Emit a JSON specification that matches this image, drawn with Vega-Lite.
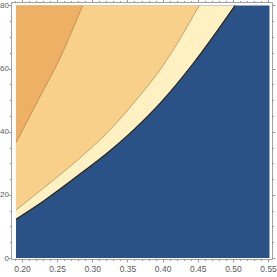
{
  "$schema": "https://vega.github.io/schema/vega-lite/v6.json",
  "width": 261,
  "height": 257,
  "autosize": "none",
  "padding": {"left": 11, "top": 2, "right": 5, "bottom": 18},
  "background": "white",
  "config": {
    "view": {"stroke": "#a0a0a0", "strokeWidth": 1},
    "axis": {
      "domain": false,
      "grid": false,
      "tickColor": "#9a9a9a",
      "tickWidth": 1,
      "labelColor": "#5a5a5a",
      "labelFont": "Liberation Sans",
      "labelFontSize": 8.5,
      "title": null
    }
  },
  "datasets": {
    "region": [{"x0": 0.1915, "x1": 0.552, "y0": 0, "y1": 80}],
    "b1": [
      {"x": 0.1915, "y": 12.3},
      {"x": 0.2303, "y": 18.0},
      {"x": 0.2778, "y": 25.8},
      {"x": 0.3252, "y": 34.0},
      {"x": 0.3607, "y": 41.0},
      {"x": 0.3963, "y": 49.0},
      {"x": 0.4437, "y": 61.7},
      {"x": 0.503, "y": 80}
    ],
    "b2": [
      {"x": 0.1915, "y": 15.2},
      {"x": 0.2303, "y": 22.1},
      {"x": 0.2778, "y": 30.8},
      {"x": 0.3252, "y": 40.6},
      {"x": 0.3607, "y": 49.6},
      {"x": 0.3963, "y": 59.6},
      {"x": 0.4522, "y": 80}
    ],
    "b3": [
      {"x": 0.1915, "y": 36.5},
      {"x": 0.2232, "y": 50.1},
      {"x": 0.254, "y": 63.3},
      {"x": 0.2863, "y": 80}
    ]
  },
  "layer": [
    {
      "data": {"name": "region"},
      "mark": {"type": "rect", "color": "#2a5286"},
      "encoding": {
        "x": {"field": "x0", "type": "quantitative", "scale": {"domain": [0.1844, 0.5556], "nice": false, "zero": false},
          "axis": {"orient": "bottom", "values": [0.2, 0.25, 0.3, 0.35, 0.4, 0.45, 0.5, 0.55], "format": ".2f", "tickSize": 3, "labelPadding": 2}},
        "x2": {"field": "x1"},
        "y": {"field": "y0", "type": "quantitative", "scale": {"domain": [-0.3, 81.1], "nice": false, "zero": false},
          "axis": {"orient": "left", "values": [0, 20, 40, 60, 80], "tickSize": 2.5, "labelPadding": 0, "labelFontSize": 8}},
        "y2": {"field": "y1"}
      }
    },
    {
      "data": {"name": "b1"},
      "mark": {"type": "area", "color": "#fff1c1", "interpolate": "monotone"},
      "encoding": {
        "x": {"field": "x", "type": "quantitative", "axis": null},
        "y": {"field": "y", "type": "quantitative", "axis": null},
        "y2": {"datum": 80}
      }
    },
    {
      "data": {"name": "b2"},
      "mark": {"type": "area", "color": "#f9d08a", "interpolate": "monotone"},
      "encoding": {
        "x": {"field": "x", "type": "quantitative", "axis": null},
        "y": {"field": "y", "type": "quantitative", "axis": null},
        "y2": {"datum": 80}
      }
    },
    {
      "data": {"name": "b3"},
      "mark": {"type": "area", "color": "#edb064", "interpolate": "monotone"},
      "encoding": {
        "x": {"field": "x", "type": "quantitative", "axis": null},
        "y": {"field": "y", "type": "quantitative", "axis": null},
        "y2": {"datum": 80}
      }
    },
    {
      "data": {"name": "b1"},
      "mark": {"type": "line", "color": "#2b2416", "strokeWidth": 1.2, "interpolate": "monotone"},
      "encoding": {
        "x": {"field": "x", "type": "quantitative", "axis": null},
        "y": {"field": "y", "type": "quantitative", "axis": null}
      }
    },
    {
      "data": {"name": "b2"},
      "mark": {"type": "line", "color": "#b8935c", "strokeWidth": 0.8, "interpolate": "monotone"},
      "encoding": {
        "x": {"field": "x", "type": "quantitative", "axis": null},
        "y": {"field": "y", "type": "quantitative", "axis": null}
      }
    },
    {
      "data": {"name": "b3"},
      "mark": {"type": "line", "color": "#b8844c", "strokeWidth": 0.8, "interpolate": "monotone"},
      "encoding": {
        "x": {"field": "x", "type": "quantitative", "axis": null},
        "y": {"field": "y", "type": "quantitative", "axis": null}
      }
    },
    {
      "data": {"name": "region"},
      "mark": {"type": "point", "opacity": 0},
      "encoding": {
        "x": {"field": "x0", "type": "quantitative",
          "axis": {"orient": "bottom", "labels": false, "tickSize": 1.5,
            "values": [0.19, 0.21, 0.22, 0.23, 0.24, 0.26, 0.27, 0.28, 0.29, 0.31, 0.32, 0.33, 0.34, 0.36, 0.37, 0.38, 0.39, 0.41, 0.42, 0.43, 0.44, 0.46, 0.47, 0.48, 0.49, 0.51, 0.52, 0.53, 0.54]}},
        "y": {"field": "y0", "type": "quantitative",
          "axis": {"orient": "left", "labels": false, "tickSize": 1.5, "values": [5, 10, 15, 25, 30, 35, 45, 50, 55, 65, 70, 75]}}
      }
    },
    {
      "data": {"name": "region"},
      "mark": {"type": "point", "opacity": 0},
      "encoding": {
        "x": {"field": "x0", "type": "quantitative",
          "axis": {"orient": "top", "labels": false, "tickSize": 3, "values": [0.2, 0.25, 0.3, 0.35, 0.4, 0.45, 0.5, 0.55]}},
        "y": {"field": "y0", "type": "quantitative",
          "axis": {"orient": "right", "labels": false, "tickSize": 3, "values": [0, 20, 40, 60, 80]}}
      }
    },
    {
      "data": {"name": "region"},
      "mark": {"type": "point", "opacity": 0},
      "encoding": {
        "x": {"field": "x0", "type": "quantitative",
          "axis": {"orient": "top", "labels": false, "tickSize": 1.5,
            "values": [0.19, 0.21, 0.22, 0.23, 0.24, 0.26, 0.27, 0.28, 0.29, 0.31, 0.32, 0.33, 0.34, 0.36, 0.37, 0.38, 0.39, 0.41, 0.42, 0.43, 0.44, 0.46, 0.47, 0.48, 0.49, 0.51, 0.52, 0.53, 0.54]}},
        "y": {"field": "y0", "type": "quantitative",
          "axis": {"orient": "right", "labels": false, "tickSize": 1.5, "values": [5, 10, 15, 25, 30, 35, 45, 50, 55, 65, 70, 75]}}
      }
    }
  ],
  "resolve": {"axis": {"x": "independent", "y": "independent"}}
}
